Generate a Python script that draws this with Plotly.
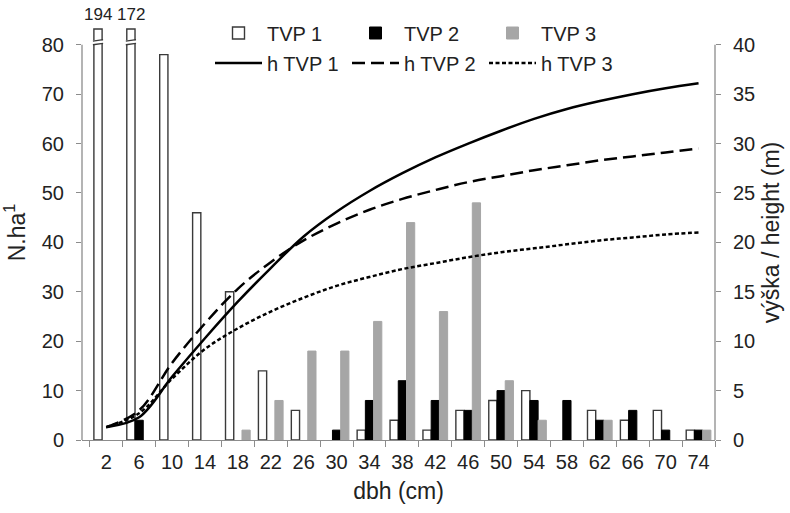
import plotly.graph_objects as go

dbh = ["2", "6", "10", "14", "18", "22", "26", "30", "34", "38",
       "42", "46", "50", "54", "58", "62", "66", "70", "74"]
tvp1 = [194, 172, 78, 46, 30, 14, 6, 0, 2, 4, 2, 6, 8, 10, 0, 6, 4, 6, 2]
tvp2 = [0, 4, 0, 0, 0, 0, 0, 2, 8, 12, 8, 6, 10, 8, 8, 4, 6, 2, 2]
tvp3 = [0, 0, 0, 0, 2, 8, 18, 18, 24, 44, 26, 48, 12, 4, 0, 4, 0, 0, 2]
h1 = [1.3, 2.3, 6.4, 10.3, 14.0, 17.4, 20.6, 23.1, 25.2, 27.0,
      28.6, 30.0, 31.3, 32.5, 33.5, 34.3, 35.0, 35.6, 36.1]
h2 = [1.3, 3.0, 7.8, 11.8, 15.3, 18.0, 20.2, 21.9, 23.3, 24.4,
      25.3, 26.1, 26.7, 27.3, 27.8, 28.3, 28.7, 29.1, 29.5]
h3 = [1.3, 2.7, 6.2, 9.2, 11.3, 13.0, 14.4, 15.6, 16.5, 17.3,
      17.9, 18.5, 19.0, 19.4, 19.8, 20.2, 20.5, 20.8, 21.0]

Y_MAX = 80          # top of the drawn axis
Y_TOP = 84          # headroom for the broken bars
Y2_MAX = 40
CAP = 83.2          # displayed height of broken bars

FONT = "Liberation Sans, Arial, sans-serif"
AXC = "#8c8c8c"
TXT = "#222222"


def disp(vals):
    out = []
    for v in vals:
        if v == 0:
            out.append(None)
        elif v > Y_MAX:
            out.append(CAP)
        else:
            out.append(v)
    return out


fig = go.Figure()
fig.add_trace(go.Bar(x=dbh, y=disp(tvp1), name="TVP 1",
                     marker=dict(color="white", line=dict(color="#3a3a3a", width=1.4)),
                     legend="legend"))
fig.add_trace(go.Bar(x=dbh, y=disp(tvp2), name="TVP 2",
                     marker=dict(color="black", line=dict(color="black", width=1)),
                     legend="legend"))
fig.add_trace(go.Bar(x=dbh, y=disp(tvp3), name="TVP 3",
                     marker=dict(color="#a6a6a6", line=dict(color="#a6a6a6", width=1)),
                     legend="legend"))

fig.add_trace(go.Scatter(x=dbh, y=h1, name="h TVP 1", yaxis="y2", mode="lines",
                         line=dict(color="black", width=2.5, shape="spline"),
                         legend="legend2"))
fig.add_trace(go.Scatter(x=dbh, y=h2, name="h TVP 2", yaxis="y2", mode="lines",
                         line=dict(color="black", width=2.5, shape="spline", dash="13px,6px"),
                         legend="legend2"))
fig.add_trace(go.Scatter(x=dbh, y=h3, name="h TVP 3", yaxis="y2", mode="lines",
                         line=dict(color="black", width=2.5, shape="spline", dash="4px,2.5px"),
                         legend="legend2"))

# axis lines only up to the top tick (80 / 40)
shapes = [
    dict(type="line", xref="paper", yref="paper", x0=0, x1=0, y0=0, y1=Y_MAX / Y_TOP,
         line=dict(color=AXC, width=1.3)),
    dict(type="line", xref="paper", yref="paper", x0=1, x1=1, y0=0, y1=Y_MAX / Y_TOP,
         line=dict(color=AXC, width=1.3)),
]
annotations = []
for i, v in enumerate(tvp1):
    if v > Y_MAX:
        xc = i - 0.25
        x0, x1 = xc - 0.155, xc + 0.155
        g0, g1 = 80.15, 80.9
        shapes.append(dict(type="rect", xref="x", yref="y", x0=x0, x1=x1,
                           y0=g0, y1=g1, fillcolor="white",
                           line=dict(width=0), layer="above"))
        for g in (g0, g1):
            shapes.append(dict(type="line", xref="x", yref="y", x0=x0, x1=x1,
                               y0=g - 0.15, y1=g + 0.15,
                               line=dict(color="#3a3a3a", width=1.3), layer="above"))
        annotations.append(dict(x=xc, y=CAP + 0.6, xref="x", yref="y",
                                text=str(v), showarrow=False, yanchor="bottom",
                                font=dict(size=17, color=TXT, family=FONT)))

fig.update_layout(
    width=790, height=513,
    margin=dict(l=82, r=75, t=25, b=73),
    paper_bgcolor="white", plot_bgcolor="white",
    font=dict(family=FONT, size=20, color=TXT),
    barmode="group", bargap=0.25, bargroupgap=0,
    xaxis=dict(type="category", showline=True, linecolor=AXC, linewidth=1.3,
               ticks="outside", tickson="boundaries", ticklen=6, tickcolor=AXC,
               showgrid=False, zeroline=False, automargin=False,
               tickfont=dict(size=20), ticklabelstandoff=4,
               title=dict(text="dbh (cm)", font=dict(size=23), standoff=10)),
    yaxis=dict(range=[0, Y_TOP], dtick=10, showline=False,
               ticks="outside", ticklen=5, tickcolor=AXC, showgrid=False, zeroline=False,
               automargin=False, tickfont=dict(size=20), ticklabelstandoff=8,
               title=dict(text="N.ha<sup>1</sup>", font=dict(size=23), standoff=10)),
    yaxis2=dict(range=[0, Y2_MAX * Y_TOP / Y_MAX], dtick=5, overlaying="y", side="right",
                showline=False, automargin=False,
                ticks="outside", ticklen=5, tickcolor=AXC, showgrid=False, zeroline=False,
                tickfont=dict(size=20), ticklabelstandoff=8,
                title=dict(text="výška / height (m)", font=dict(size=23), standoff=8)),
    legend=dict(orientation="h", x=(210 - 82) / 633, xanchor="left",
                y=(440 - 33) / 415, yanchor="middle", bgcolor="rgba(0,0,0,0)",
                entrywidth=75, itemwidth=47, font=dict(size=20)),
    legend2=dict(orientation="h", x=(210 - 82) / 633, xanchor="left",
                 y=(440 - 63) / 415, yanchor="middle", bgcolor="rgba(0,0,0,0)",
                 entrywidth=75, itemwidth=47, font=dict(size=20)),
    shapes=shapes,
    annotations=annotations,
)

fig.write_html("out.html")
